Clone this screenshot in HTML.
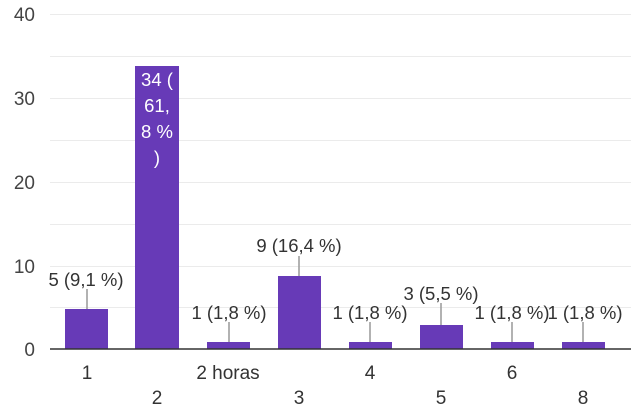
<!DOCTYPE html><html><head><style>body{margin:0;background:#fff}svg{display:block;font-family:"Liberation Sans",sans-serif}</style></head><body>
<svg width="631" height="404" viewBox="0 0 631 404">
<g stroke="#ebebeb" stroke-width="1">
<line x1="50" x2="631" y1="14.5" y2="14.5"/><line x1="50" x2="631" y1="56.5" y2="56.5"/><line x1="50" x2="631" y1="98.5" y2="98.5"/><line x1="50" x2="631" y1="140.5" y2="140.5"/><line x1="50" x2="631" y1="182.5" y2="182.5"/><line x1="50" x2="631" y1="224.5" y2="224.5"/><line x1="50" x2="631" y1="266.5" y2="266.5"/><line x1="50" x2="631" y1="307.5" y2="307.5"/></g>
<g font-size="19" fill="#444" text-anchor="end"><text x="35" y="21">40</text><text x="35" y="105">30</text><text x="35" y="189">20</text><text x="35" y="273">10</text><text x="35" y="356">0</text></g>
<g fill="#673ab7">
<rect x="65" y="309" width="43" height="40"/><rect x="135" y="66" width="44" height="283"/><rect x="207" y="342" width="43" height="7"/><rect x="278" y="276" width="43" height="73"/><rect x="349" y="342" width="43" height="7"/><rect x="420" y="325" width="43" height="24"/><rect x="491" y="342" width="43" height="7"/><rect x="562" y="342" width="43" height="7"/></g>
<line x1="50" x2="631" y1="349" y2="349" stroke="#333" stroke-width="1.5"/>
<g stroke="#999" stroke-width="1.5"><line x1="87" x2="87" y1="289" y2="309"/><line x1="299" x2="299" y1="256" y2="276"/><line x1="229" x2="229" y1="322" y2="342"/><line x1="370" x2="370" y1="322" y2="342"/><line x1="441" x2="441" y1="303" y2="325"/><line x1="512" x2="512" y1="322" y2="342"/><line x1="583" x2="583" y1="322" y2="342"/></g>
<g font-size="18.5" fill="#333" text-anchor="middle">
<text x="86" y="286">5 (9,1 %)</text><text x="299" y="252">9 (16,4 %)</text><text x="229" y="319">1 (1,8 %)</text><text x="370" y="319">1 (1,8 %)</text><text x="441" y="300">3 (5,5 %)</text><text x="512" y="319">1 (1,8 %)</text><text x="585" y="319">1 (1,8 %)</text></g>
<g font-size="18.5" fill="#fff" text-anchor="middle"><text x="157" y="86">34 (</text><text x="157" y="112">61,</text><text x="157" y="138">8 %</text><text x="157" y="164">)</text></g>
<g font-size="19" fill="#333" text-anchor="middle">
<text x="87" y="379">1</text><text x="228" y="379">2 horas</text><text x="370" y="379">4</text><text x="512" y="379">6</text>
<text x="157" y="404">2</text><text x="299" y="404">3</text><text x="441" y="404">5</text><text x="583" y="404">8</text></g>
</svg></body></html>
